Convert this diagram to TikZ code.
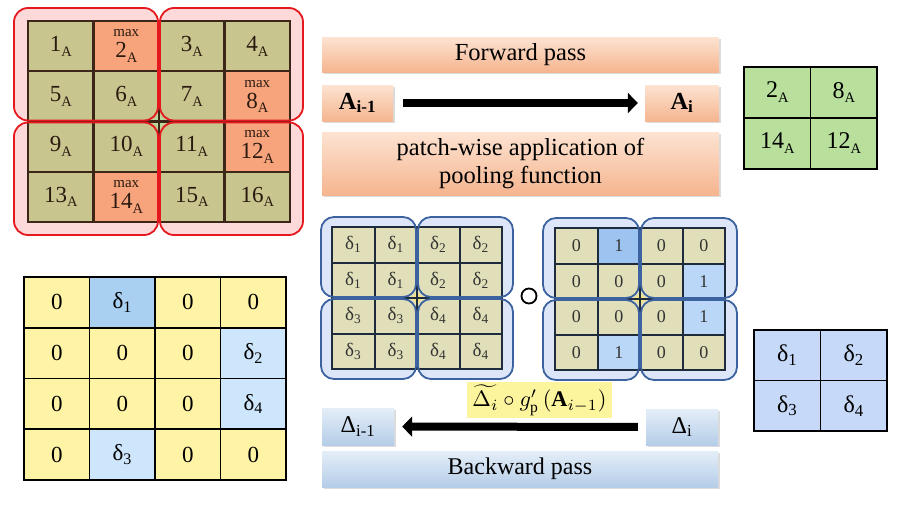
\documentclass[tikz,border=0pt]{standalone}
\usepackage{graphicx}
\usepackage{fontspec}
\setmainfont{Liberation Serif}
\usetikzlibrary{arrows.meta,shadows}
\definecolor{tlcell}{HTML}{C8C58E}
\definecolor{tlmax}{HTML}{F7A47C}
\definecolor{tlline}{HTML}{3B2618}
\definecolor{tltext}{HTML}{2A1A10}
\definecolor{pinkfill}{HTML}{FDD9D9}
\definecolor{redline}{HTML}{E5181E}
\definecolor{dgcell}{HTML}{E0DFB9}
\definecolor{dgline}{HTML}{1E2B3C}
\definecolor{dgtext}{HTML}{333333}
\definecolor{bpfill}{HTML}{DCE6F8}
\definecolor{bpline}{HTML}{3C63A0}
\definecolor{bdark}{HTML}{9DC3F0}
\definecolor{blight}{HTML}{BAD7F8}
\definecolor{staryel}{HTML}{F5E38A}
\definecolor{stargrn}{HTML}{B5DDA0}
\definecolor{ycell}{HTML}{FFF4A6}
\definecolor{ydark}{HTML}{A9CFF1}
\definecolor{ylight}{HTML}{CDE6FB}
\definecolor{gcell}{HTML}{B8E09C}
\definecolor{rbcell}{HTML}{C6D9F8}
\definecolor{ortop}{HTML}{FDE3D2}
\definecolor{orbot}{HTML}{F5B58F}
\definecolor{bltop}{HTML}{E4EEF8}
\definecolor{blbot}{HTML}{B5CDE8}
\definecolor{hilite}{HTML}{FDF49E}
\newcommand\fsz[2]{\fontsize{#1}{#2}\selectfont}
\newcommand\subA{\raisebox{-0.45ex}{\fsz{14.5}{14.5}A}}
\newcommand\mystar[4]{\fill[#4] (#1,#2-#3) .. controls +(0,0.552*#3) and +(0.552*#3,0) .. (#1-#3,#2) .. controls +(0.552*#3,0) and +(0,-0.552*#3) .. (#1,#2+#3) .. controls +(0,-0.552*#3) and +(-0.552*#3,0) .. (#1+#3,#2) .. controls +(-0.552*#3,0) and +(0,0.552*#3) .. cycle;}
\begin{document}
\begin{tikzpicture}[x=1pt,y=-1pt,
  tlc/.style={draw=tlline,line width=2.2pt,fill=tlcell,minimum width=65.5pt,minimum height=50.25pt,inner sep=0pt,text=tltext,font=\fsz{23}{24}},
  tlm/.style={tlc,fill=tlmax,align=center},
  dgc/.style={draw=dgline,line width=2pt,fill=dgcell,minimum width=42.5pt,minimum height=35.5pt,inner sep=0pt,text=dgtext,font=\fsz{19}{20}},
  ygc/.style={draw=black,line width=1.8pt,fill=ycell,minimum width=65.5pt,minimum height=50.75pt,inner sep=0pt,text=black,font=\fsz{23}{24}},
  smc/.style={draw=black,line width=1.8pt,minimum width=66.5pt,minimum height=51pt,inner sep=0pt,text=black,font=\fsz{24}{25}},
  orbox/.style={top color=ortop,bottom color=orbot,draw=none,inner sep=0pt,font=\fsz{24.5}{28},align=center,
    drop shadow={shadow xshift=1.5pt,shadow yshift=-1.5pt,fill=black!40,opacity=0.35}},
  blbox/.style={top color=bltop,bottom color=blbot,draw=none,inner sep=0pt,font=\fsz{24}{28},align=center,
    drop shadow={shadow xshift=1.5pt,shadow yshift=-1.5pt,fill=black!40,opacity=0.35}},
  bigarrow/.style={line width=8pt,-{Triangle[length=10pt,width=20pt]}}
]
\useasboundingbox (0,0) rectangle (900,506);
\fill[white] (0,0) rectangle (900,506);

% ---------- top-left grid ----------
\foreach \a/\b/\cc/\dd in {14/8/158/120.5,160/8/303/120.5,14/122.5/158/235,160/122.5/303/235}
  \fill[pinkfill,rounded corners=14pt] (\a,\b) rectangle (\cc,\dd);
\foreach \r/\c/\t in {0/0/1,0/2/3,0/3/4,1/0/5,1/1/6,1/2/7,2/0/9,2/1/10,2/2/11,3/0/13,3/2/15,3/3/16}
  \node[tlc] (tl-\r-\c) at ({28+65.5*\c+32.75},{21+50.25*\r+25.125}) {\t\subA};
\foreach \r/\c/\t in {0/1/2,1/3/8,2/3/12,3/1/14}
  \node[tlm] (tl-\r-\c) at ({28+65.5*\c+32.75},{21+50.25*\r+25.125}) {{\fsz{15}{15}max}\\[-3pt]\t\subA};
\mystar{159}{121.5}{11}{stargrn}
\draw[tlline,line width=2.2pt] (146,121.5) -- (172,121.5) (159,108.5) -- (159,134.5);
\foreach \a/\b/\cc/\dd in {14/8/158/120.5,160/8/303/120.5,14/122.5/158/235,160/122.5/303/235}
  \draw[redline,line width=1.8pt,rounded corners=14pt] (\a,\b) rectangle (\cc,\dd);

% ---------- forward pass ----------
\node[orbox,minimum width=397pt,minimum height=35pt] (fw) at (520.5,54.5) {Forward pass};
\node[orbox,minimum width=71pt,minimum height=36pt] (ai1) at (357.5,103) {\textbf{A\textsubscript{i-1}}};
\node[orbox,minimum width=74pt,minimum height=36pt] (ai) at (682,103) {\textbf{A\textsubscript{i}}};
\node[orbox,minimum width=397pt,minimum height=63pt] (pw) at (520.5,163.5) {patch-wise application of\\pooling function};
\draw[bigarrow,shorten <=10pt,shorten >=7pt] (ai1) -- (ai);

% ---------- green grid ----------
\node[smc,fill=gcell] (g-0-0) at (777.25,92.5) {2\subA};
\node[smc,fill=gcell] (g-0-1) at (843.75,92.5) {8\subA};
\node[smc,fill=gcell] (g-1-0) at (777.25,143.5) {14\subA};
\node[smc,fill=gcell] (g-1-1) at (843.75,143.5) {12\subA};

% ---------- delta grid 1 ----------
\foreach \a/\b/\cc/\dd in {321/217/416/297,418/217/513/297,321/299/416/379,418/299/513/379}
  \fill[bpfill,rounded corners=13pt] (\a,\b) rectangle (\cc,\dd);
\foreach \r in {0,...,3} \foreach \c in {0,...,3} {
  \pgfmathtruncatemacro\v{1+2*(\r>1)+(\c>1)}
  \node[dgc] (da-\r-\c) at ({332+42.5*\c+21.25},{227+35.5*\r+17.75}) {δ\textsubscript{\v}};
}
\mystar{417}{298}{10}{staryel}
\draw[dgline,line width=2pt] (405,298) -- (429,298) (417,286) -- (417,310);
\foreach \a/\b/\cc/\dd in {321/217/416/297,418/217/513/297,321/299/416/379,418/299/513/379}
  \draw[bpline,line width=1.8pt,rounded corners=13pt] (\a,\b) rectangle (\cc,\dd);

\node[draw=black,circle,line width=1.8pt,minimum size=15pt,inner sep=0pt] (op) at (529,296) {};

% ---------- delta grid 2 ----------
\foreach \a/\b/\cc/\dd in {543/218/639/298,641/218/737/298,543/300/639/380,641/300/737/380}
  \fill[bpfill,rounded corners=13pt] (\a,\b) rectangle (\cc,\dd);
\foreach \r/\c/\t/\f in {0/0/0/dgcell,0/1/1/bdark,0/2/0/dgcell,0/3/0/dgcell,
                         1/0/0/dgcell,1/1/0/dgcell,1/2/0/dgcell,1/3/1/blight,
                         2/0/0/dgcell,2/1/0/dgcell,2/2/0/dgcell,2/3/1/blight,
                         3/0/0/dgcell,3/1/1/blight,3/2/0/dgcell,3/3/0/dgcell}
  \node[dgc,fill=\f,font=\fsz{18}{19}] (db-\r-\c) at ({555+42.5*\c+21.25},{228+35.5*\r+17.75}) {\t};
\mystar{640}{299}{10}{staryel}
\draw[dgline,line width=2pt] (628,299) -- (652,299) (640,287) -- (640,311);
\foreach \a/\b/\cc/\dd in {543/218/639/298,641/218/737/298,543/300/639/380,641/300/737/380}
  \draw[bpline,line width=1.8pt,rounded corners=13pt] (\a,\b) rectangle (\cc,\dd);

% ---------- yellow grid ----------
\foreach \r/\c/\t/\f in {0/0/0/ycell,0/1/δ\textsubscript{1}/ydark,0/2/0/ycell,0/3/0/ycell,
                         1/0/0/ycell,1/1/0/ycell,1/2/0/ycell,1/3/δ\textsubscript{2}/ylight,
                         2/0/0/ycell,2/1/0/ycell,2/2/0/ycell,2/3/δ\textsubscript{4}/ylight,
                         3/0/0/ycell,3/1/δ\textsubscript{3}/ylight,3/2/0/ycell,3/3/0/ycell}
  \node[ygc,fill=\f] (y-\r-\c) at ({24+65.5*\c+32.75},{277+50.75*\r+25.375}) {\t};

% ---------- right blue grid ----------
\node[smc,fill=rbcell,minimum height=50.5pt] (rb-0-0) at (787.25,355.25) {δ\textsubscript{1}};
\node[smc,fill=rbcell,minimum height=50.5pt] (rb-0-1) at (853.75,355.25) {δ\textsubscript{2}};
\node[smc,fill=rbcell,minimum height=50.5pt] (rb-1-0) at (787.25,405.75) {δ\textsubscript{3}};
\node[smc,fill=rbcell,minimum height=50.5pt] (rb-1-1) at (853.75,405.75) {δ\textsubscript{4}};

% ---------- backward pass ----------
\node[fill=hilite,minimum width=145pt,minimum height=36pt,inner sep=0pt] (lab) at (539.5,400)
  {\resizebox{134pt}{!}{$\widetilde{\Delta_i}\circ g'_{\mathrm{p}}\,(\mathbf{A}_{i-1})$}};
\node[blbox,minimum width=72pt,minimum height=37pt] (di1) at (358,426.5) {Δ\textsubscript{i-1}};
\node[blbox,minimum width=72pt,minimum height=36pt] (di) at (682,427) {Δ\textsubscript{i}};
\node[blbox,minimum width=396pt,minimum height=36pt] (bp) at (520,469) {Backward pass};
\draw[bigarrow,shorten <=8pt,shorten >=8pt] (di) -- (di1);
\end{tikzpicture}
\end{document}
